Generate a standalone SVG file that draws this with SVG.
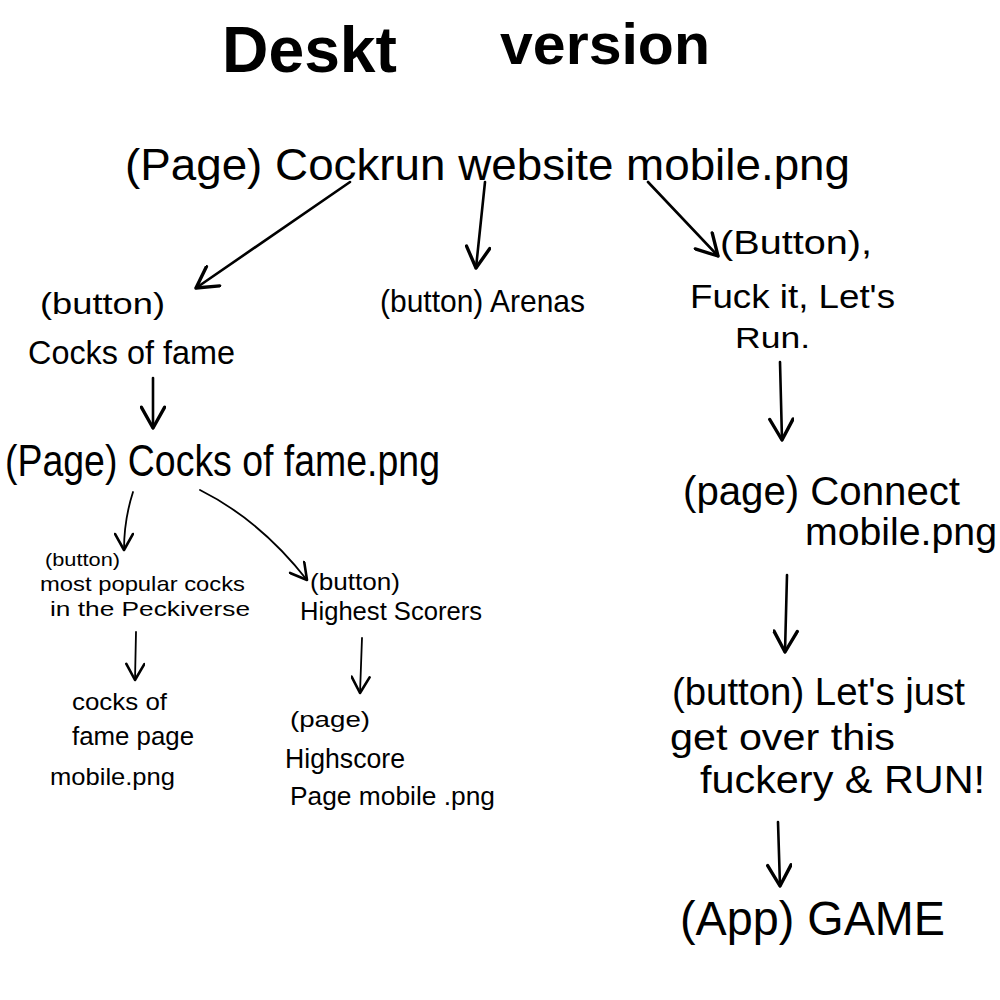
<svg xmlns="http://www.w3.org/2000/svg" width="1000" height="1000" viewBox="0 0 1000 1000">
<defs>
<marker id="ah" viewBox="0 0 20 20" refX="18" refY="10" markerWidth="26" markerHeight="26" markerUnits="userSpaceOnUse" orient="auto">
<path d="M2,1 L18,10 L2,19" fill="none" stroke="#000" stroke-width="2.6" stroke-linecap="round" stroke-linejoin="round"/>
</marker>
<marker id="ahs" viewBox="0 0 20 20" refX="18" refY="10" markerWidth="20" markerHeight="20" markerUnits="userSpaceOnUse" orient="auto">
<path d="M2,1 L18,10 L2,19" fill="none" stroke="#000" stroke-width="2.6" stroke-linecap="round" stroke-linejoin="round"/>
</marker>
</defs>
<style>
text{font-family:"Liberation Sans","DejaVu Sans",sans-serif;fill:#000}
.t{font-weight:bold}
.c{fill:none;stroke:#000;stroke-width:2.6;stroke-linecap:round}
.cs{fill:none;stroke:#000;stroke-width:1.8;stroke-linecap:round}
</style>
<rect width="1000" height="1000" fill="#fff"/>
<g id="title">
<text class="t" x="222" y="72" font-size="64" textLength="175" lengthAdjust="spacingAndGlyphs">Deskt</text>
<text class="t" x="500" y="64" font-size="58" textLength="210" lengthAdjust="spacingAndGlyphs">version</text>
</g>
<g id="connectors">
<path class="c" d="M350,182 L196,288" marker-end="url(#ah)"/>
<path class="c" d="M485,182 L476,268" marker-end="url(#ah)"/>
<path class="c" d="M648,182 L718,256" marker-end="url(#ah)"/>
<path class="c" d="M153,378 L153,428" marker-end="url(#ah)"/>
<path class="cs" d="M133,492 Q124,520 124,550" marker-end="url(#ahs)"/>
<path class="cs" d="M200,490 Q260,520 307,580" marker-end="url(#ahs)"/>
<path class="cs" d="M136,632 L135,680" marker-end="url(#ahs)"/>
<path class="cs" d="M362,638 L360,693" marker-end="url(#ahs)"/>
<path class="c" d="M780,362 L782,440" marker-end="url(#ah)"/>
<path class="c" d="M787,575 L785,652" marker-end="url(#ah)"/>
<path class="c" d="M778,822 L780,886" marker-end="url(#ah)"/>
</g>
<g id="n-home">
<text x="125" y="180" font-size="44" textLength="725" lengthAdjust="spacingAndGlyphs">(Page) Cockrun website mobile.png</text>
</g>
<g id="n-cof-btn">
<text x="40" y="314" font-size="30" textLength="125" lengthAdjust="spacingAndGlyphs">(button)</text>
<text x="28" y="364" font-size="34" textLength="207" lengthAdjust="spacingAndGlyphs">Cocks of fame</text>
</g>
<g id="n-arenas">
<text x="380" y="312" font-size="32" textLength="205" lengthAdjust="spacingAndGlyphs">(button) Arenas</text>
</g>
<g id="n-run-btn">
<text x="720" y="254" font-size="34" textLength="152" lengthAdjust="spacingAndGlyphs">(Button),</text>
<text x="690" y="308" font-size="34" textLength="205" lengthAdjust="spacingAndGlyphs">Fuck it, Let's</text>
<text x="735" y="348" font-size="30" textLength="75" lengthAdjust="spacingAndGlyphs">Run.</text>
</g>
<g id="n-cof-page">
<text x="5" y="476" font-size="44" textLength="435" lengthAdjust="spacingAndGlyphs">(Page) Cocks of fame.png</text>
</g>
<g id="n-popular">
<text x="45" y="566" font-size="18" textLength="75" lengthAdjust="spacingAndGlyphs">(button)</text>
<text x="40" y="591" font-size="21" textLength="205" lengthAdjust="spacingAndGlyphs">most popular cocks</text>
<text x="50" y="616" font-size="21" textLength="200" lengthAdjust="spacingAndGlyphs">in the Peckiverse</text>
</g>
<g id="n-highest">
<text x="310" y="590" font-size="24" textLength="90" lengthAdjust="spacingAndGlyphs">(button)</text>
<text x="300" y="620" font-size="26" textLength="182" lengthAdjust="spacingAndGlyphs">Highest Scorers</text>
</g>
<g id="n-cof-mobile">
<text x="72" y="710" font-size="24" textLength="95" lengthAdjust="spacingAndGlyphs">cocks of</text>
<text x="72" y="745" font-size="26" textLength="122" lengthAdjust="spacingAndGlyphs">fame page</text>
<text x="50" y="785" font-size="24" textLength="125" lengthAdjust="spacingAndGlyphs">mobile.png</text>
</g>
<g id="n-highscore">
<text x="290" y="727" font-size="22" textLength="80" lengthAdjust="spacingAndGlyphs">(page)</text>
<text x="285" y="768" font-size="28" textLength="120" lengthAdjust="spacingAndGlyphs">Highscore</text>
<text x="290" y="805" font-size="26" textLength="205" lengthAdjust="spacingAndGlyphs">Page mobile  .png</text>
</g>
<g id="n-connect">
<text x="683" y="505" font-size="40" textLength="277" lengthAdjust="spacingAndGlyphs">(page) Connect</text>
<text x="805" y="545" font-size="38" textLength="192" lengthAdjust="spacingAndGlyphs">mobile.png</text>
</g>
<g id="n-justrun">
<text x="672" y="705" font-size="38" textLength="293" lengthAdjust="spacingAndGlyphs">(button) Let's just</text>
<text x="670" y="750" font-size="36" textLength="225" lengthAdjust="spacingAndGlyphs">get over this</text>
<text x="700" y="793" font-size="38" textLength="285" lengthAdjust="spacingAndGlyphs">fuckery &amp; RUN!</text>
</g>
<g id="n-game">
<text x="680" y="935" font-size="48" textLength="265" lengthAdjust="spacingAndGlyphs">(App) GAME</text>
</g>
</svg>
